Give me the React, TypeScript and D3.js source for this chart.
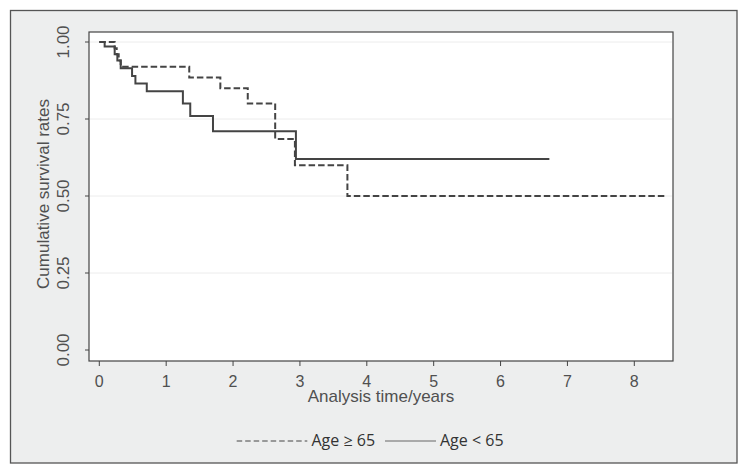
import React from "react";
import * as d3 from "d3";

// ---- data ----
const xTicks = [0, 1, 2, 3, 4, 5, 6, 7, 8];
const yTicks = [0, 0.25, 0.5, 0.75, 1];
const yTickLabels = ["0.00", "0.25", "0.50", "0.75", "1.00"];

// Age >= 65 (dashed)
const oldTimes = [0, 0.23, 0.26, 0.29, 0.32, 1.345, 1.81, 2.22, 2.63, 2.925, 3.71, 8.46];
const oldSurv = [1, 0.98, 0.96, 0.94, 0.92, 0.885, 0.85, 0.8, 0.685, 0.6, 0.5, 0.5];

// Age < 65 (solid)
const youngTimes = [0, 0.08, 0.23, 0.27, 0.32, 0.49, 0.54, 0.71, 1.25, 1.36, 1.7, 2.94, 6.73];
const youngSurv = [1, 0.985, 0.96, 0.94, 0.915, 0.89, 0.865, 0.84, 0.8, 0.76, 0.71, 0.62, 0.62];

const legendLabels = ["Age \u2265 65", "Age < 65"];
const xTitle = "Analysis time/years";
const yTitle = "Cumulative survival rates";

// ---- layout ----
const W = 748;
const H = 474;
const plot = { left: 89, top: 32, right: 673, bottom: 361 };

export default function App() {
  const x = d3.scaleLinear().domain([0, 8]).range([99.3, 634.3]);
  const y = d3.scaleLinear().domain([0, 1]).range([350, 42]);

  const line = d3
    .line<[number, number]>()
    .x((d) => x(d[0]))
    .y((d) => y(d[1]))
    .curve(d3.curveStepAfter);

  const oldPts = oldTimes.map((t, i) => [t, oldSurv[i]] as [number, number]);
  const youngPts = youngTimes.map((t, i) => [t, youngSurv[i]] as [number, number]);

  const tickFont = "'Liberation Sans', Arial, sans-serif";
  const tickColor = "#505050";

  return (
    <svg
      width={W}
      height={H}
      style={{ position: "absolute", left: 0, top: 0, background: "#fff" }}
    >
      <rect x={10.5} y={10.5} width={726.5} height={452.5} fill="#edeeee" stroke="#555" strokeWidth={1.3} />
      <rect
        x={plot.left}
        y={plot.top}
        width={plot.right - plot.left}
        height={plot.bottom - plot.top}
        fill="#fff"
        stroke="#444"
        strokeWidth={1.2}
      />
      {/* grid */}
      {yTicks.map((t) =>
        t > 0 ? (
          <line key={"g" + t} x1={plot.left + 1} x2={plot.right - 1} y1={y(t)} y2={y(t)} stroke="#ececec" strokeWidth={1} />
        ) : null
      )}
      {/* y ticks */}
      {yTicks.map((t, i) => (
        <g key={"y" + t}>
          <line x1={plot.left - 4} x2={plot.left} y1={y(t)} y2={y(t)} stroke="#444" strokeWidth={1} />
          <text
            transform={`translate(68.5,${y(t)}) rotate(-90)`}
            textAnchor="middle"
            fontFamily={tickFont}
            fontSize={17}
            fill={tickColor}
          >
            {yTickLabels[i]}
          </text>
        </g>
      ))}
      {/* x ticks */}
      {xTicks.map((t) => (
        <g key={"x" + t}>
          <line x1={x(t)} x2={x(t)} y1={plot.bottom} y2={plot.bottom + 5} stroke="#444" strokeWidth={1} />
          <text x={x(t)} y={386.5} textAnchor="middle" fontFamily={tickFont} fontSize={16} fill={tickColor}>
            {t}
          </text>
        </g>
      ))}
      <text
        x={(plot.left + plot.right) / 2}
        y={401.5}
        textAnchor="middle"
        fontFamily={tickFont}
        fontSize={17}
        fill={tickColor}
      >
        {xTitle}
      </text>
      <text
        transform={`translate(48.5,194) rotate(-90)`}
        textAnchor="middle"
        fontFamily={tickFont}
        fontSize={17}
        fill={tickColor}
      >
        {yTitle}
      </text>

      {/* curves */}
      <path d={line(youngPts) || ""} fill="none" stroke="#444" strokeWidth={2} />
      <path d={line(oldPts) || ""} fill="none" stroke="#444" strokeWidth={2} strokeDasharray="6.5 3" />

      {/* legend */}
      <line x1={236.7} x2={307.3} y1={441} y2={441} stroke="#444" strokeWidth={1} strokeDasharray="5.5 3" />
      <text x={311.5} y={446} fontFamily="'Open Sans', sans-serif" fontSize={16} fill="#333">
        {legendLabels[0]}
      </text>
      <line x1={385} x2={436} y1={441} y2={441} stroke="#666" strokeWidth={1} />
      <text x={440} y={446} fontFamily="'Open Sans', sans-serif" fontSize={16} fill="#333">
        {legendLabels[1]}
      </text>
    </svg>
  );
}
